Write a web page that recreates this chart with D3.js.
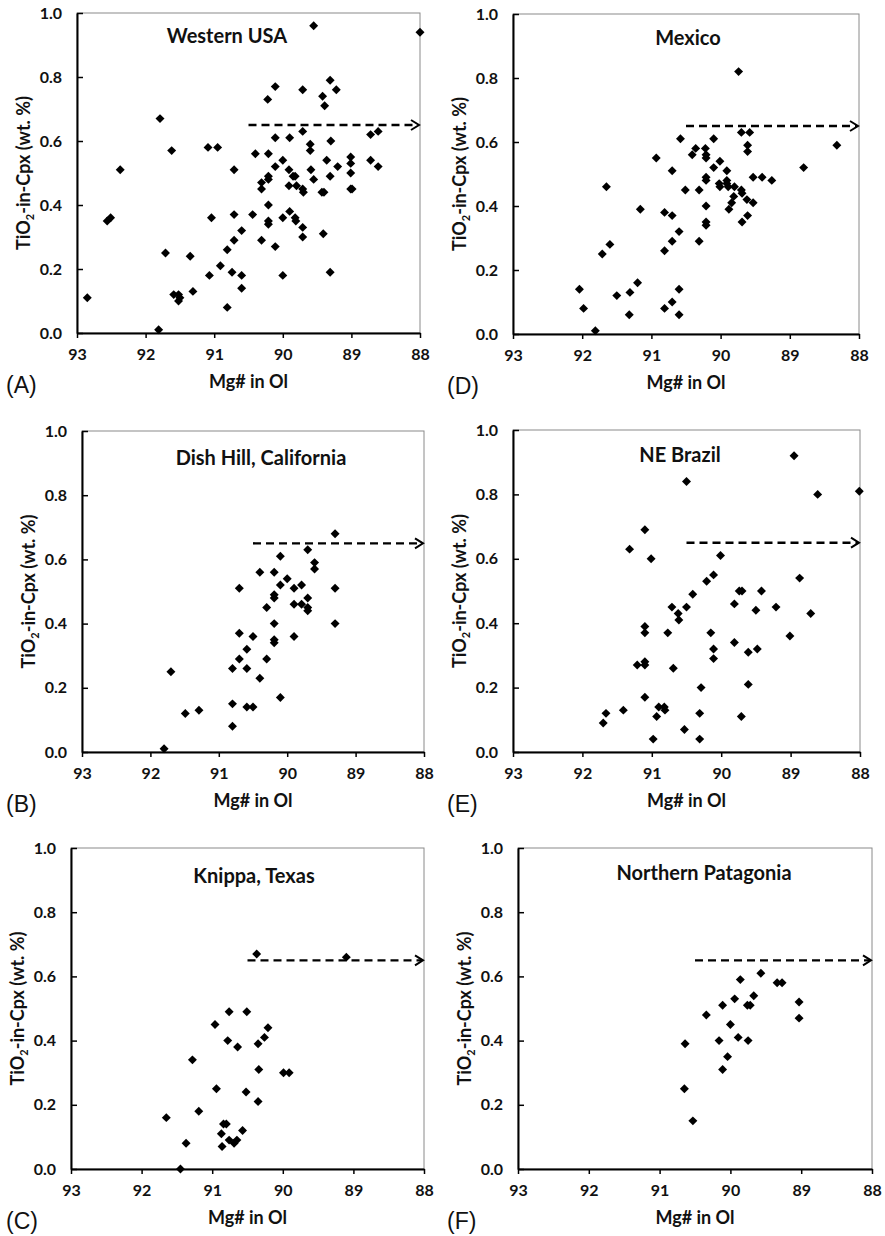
<!DOCTYPE html>
<html>
<head>
<meta charset="utf-8">
<script src="https://cdn.jsdelivr.net/npm/d3@7"></script>
<style>
  body { margin: 0; background: #fff; }
  text { font-family: Lato, "Open Sans", sans-serif; fill: #111; }
</style>
</head>
<body>
<svg id="fig" width="885" height="1236"></svg>
<script>
// tick values and reference arrow
var xTicks = [93, 92, 91, 90, 89, 88];
var yTicks = [0, 0.2, 0.4, 0.6, 0.8, 1.0];
var arrowX = [90.5, 88];
var arrowY = 0.65;

// [Mg# in Ol, TiO2-in-Cpx]
var westernUSA = [[92.85,0.11],[91.81,0.01],[91.79,0.67],[91.62,0.57],[92.37,0.51],[92.56,0.35],[92.51,0.36],[91.71,0.25],
  [91.59,0.12],[91.52,0.12],[91.52,0.10],[91.50,0.11],[91.35,0.24],[91.31,0.13],[91.09,0.58],[90.95,0.58],[91.04,0.36],
  [91.07,0.18],[90.91,0.21],[90.81,0.08],[90.81,0.26],[90.74,0.19],[90.71,0.51],[90.71,0.37],[90.71,0.29],[90.60,0.32],
  [90.60,0.18],[90.60,0.14],[90.40,0.56],[90.44,0.37],[90.31,0.29],[90.31,0.45],[90.31,0.47],[90.22,0.73],[90.21,0.56],
  [90.21,0.49],[90.21,0.48],[90.21,0.40],[90.21,0.35],[90.21,0.34],[90.11,0.77],[90.11,0.61],[90.11,0.52],[90.11,0.27],
  [90.00,0.54],[90.00,0.36],[90.00,0.18],[89.91,0.51],[89.90,0.61],[89.91,0.46],[89.90,0.38],[89.85,0.49],[89.82,0.49],
  [89.82,0.36],[89.81,0.35],[89.80,0.46],[89.71,0.76],[89.71,0.63],[89.71,0.45],[89.70,0.44],[89.71,0.33],[89.71,0.30],
  [89.60,0.59],[89.60,0.57],[89.59,0.51],[89.55,0.96],[89.55,0.48],[89.43,0.44],[89.40,0.44],[89.42,0.74],[89.39,0.71],
  [89.41,0.31],[89.36,0.54],[89.31,0.79],[89.30,0.60],[89.31,0.49],[89.31,0.19],[89.22,0.76],[89.20,0.52],[89.01,0.55],
  [89.01,0.53],[89.01,0.50],[89.01,0.45],[88.99,0.45],[88.72,0.62],[88.61,0.63],[88.72,0.54],[88.61,0.52],[88.00,0.94]];

var mexico = [[92.04,0.14],[91.98,0.08],[91.81,0.01],[91.71,0.25],[91.65,0.46],[91.60,0.28],[91.50,0.12],[91.31,0.13],
  [91.32,0.06],[91.20,0.16],[91.16,0.39],[90.93,0.55],[90.81,0.38],[90.81,0.26],[90.81,0.08],[90.70,0.51],[90.70,0.37],
  [90.70,0.29],[90.70,0.10],[90.60,0.32],[90.60,0.14],[90.60,0.06],[90.58,0.61],[90.51,0.45],[90.41,0.56],[90.36,0.58],
  [90.31,0.45],[90.31,0.29],[90.22,0.58],[90.21,0.56],[90.21,0.55],[90.21,0.49],[90.21,0.48],[90.21,0.40],[90.21,0.35],
  [90.21,0.34],[90.10,0.61],[90.10,0.52],[90.01,0.54],[90.02,0.47],[90.01,0.46],[89.91,0.51],[89.91,0.48],[89.91,0.47],
  [89.89,0.46],[89.88,0.39],[89.84,0.41],[89.81,0.43],[89.80,0.46],[89.74,0.82],[89.70,0.63],[89.70,0.45],[89.69,0.44],
  [89.69,0.35],[89.62,0.42],[89.61,0.37],[89.61,0.59],[89.61,0.57],[89.58,0.63],[89.53,0.49],[89.53,0.41],[89.40,0.49],
  [89.26,0.48],[88.80,0.52],[88.32,0.59]];

var dishHill = [[91.80,0.01],[91.70,0.25],[91.49,0.12],[91.29,0.13],[90.80,0.08],[90.80,0.15],[90.80,0.26],[90.70,0.51],
  [90.70,0.37],[90.70,0.29],[90.59,0.32],[90.59,0.26],[90.59,0.14],[90.50,0.14],[90.50,0.36],[90.40,0.56],[90.40,0.23],
  [90.30,0.45],[90.30,0.29],[90.19,0.56],[90.19,0.49],[90.19,0.48],[90.19,0.40],[90.19,0.35],[90.19,0.34],[90.10,0.61],
  [90.10,0.52],[90.10,0.17],[90.00,0.54],[89.90,0.51],[89.90,0.46],[89.90,0.36],[89.79,0.52],[89.79,0.46],[89.70,0.63],
  [89.70,0.48],[89.70,0.45],[89.70,0.44],[89.60,0.59],[89.60,0.57],[89.30,0.68],[89.30,0.51],[89.30,0.40]];

var neBrazil = [[91.70,0.09],[91.66,0.12],[91.41,0.13],[91.32,0.63],[91.21,0.27],[91.10,0.69],[91.10,0.39],[91.10,0.37],
  [91.10,0.28],[91.10,0.27],[91.10,0.17],[91.01,0.60],[90.98,0.04],[90.93,0.11],[90.90,0.14],[90.82,0.14],[90.81,0.13],
  [90.77,0.37],[90.71,0.45],[90.69,0.26],[90.62,0.43],[90.61,0.41],[90.53,0.07],[90.50,0.45],[90.50,0.84],[90.41,0.49],
  [90.31,0.12],[90.31,0.04],[90.29,0.20],[90.21,0.53],[90.15,0.37],[90.11,0.55],[90.11,0.32],[90.11,0.29],[90.01,0.61],
  [89.81,0.46],[89.81,0.34],[89.74,0.50],[89.70,0.50],[89.71,0.11],[89.61,0.31],[89.61,0.21],[89.50,0.44],[89.48,0.32],
  [89.42,0.50],[89.21,0.45],[89.01,0.36],[88.95,0.92],[88.87,0.54],[88.71,0.43],[88.61,0.80],[88.01,0.81]];

var knippa = [[91.65,0.16],[91.45,0.00],[91.37,0.08],[91.28,0.34],[91.19,0.18],[90.96,0.45],[90.94,0.25],[90.87,0.11],
  [90.86,0.07],[90.84,0.14],[90.80,0.14],[90.78,0.40],[90.76,0.49],[90.76,0.09],[90.69,0.08],[90.65,0.09],[90.64,0.38],
  [90.57,0.12],[90.52,0.24],[90.51,0.49],[90.37,0.67],[90.35,0.39],[90.35,0.21],[90.34,0.31],[90.26,0.41],[90.21,0.44],
  [89.99,0.30],[89.91,0.30],[89.10,0.66]];

var patagonia = [[90.65,0.25],[90.64,0.39],[90.53,0.15],[90.34,0.48],[90.16,0.40],[90.11,0.51],[90.11,0.31],[90.04,0.35],
  [90.00,0.45],[89.94,0.53],[89.89,0.41],[89.86,0.59],[89.76,0.51],[89.72,0.51],[89.75,0.40],[89.67,0.54],[89.57,0.61],
  [89.34,0.58],[89.27,0.58],[89.03,0.52],[89.03,0.47]];

var panels = [
  {tag: '(A)', title: 'Western USA', data: westernUSA, left: 77, right: 420, top: 13, bottom: 333, tx: 227, ty: 43},
  {tag: '(D)', title: 'Mexico', data: mexico, left: 513, right: 859, top: 14, bottom: 334, tx: 688, ty: 45},
  {tag: '(B)', title: 'Dish Hill, California', data: dishHill, left: 82, right: 424, top: 431, bottom: 752, tx: 261, ty: 465},
  {tag: '(E)', title: 'NE Brazil', data: neBrazil, left: 513, right: 860, top: 430, bottom: 752, tx: 680, ty: 462},
  {tag: '(C)', title: 'Knippa, Texas', data: knippa, left: 71, right: 424, top: 848, bottom: 1169, tx: 254, ty: 883},
  {tag: '(F)', title: 'Northern Patagonia', data: patagonia, left: 518, right: 872, top: 848, bottom: 1169, tx: 704, ty: 880}
];

var svg = d3.select('#fig');
svg.append('rect').attr('width', 885).attr('height', 1236).attr('fill', '#fff');

panels.forEach(function(p, i) {
  var x = d3.scaleLinear().domain([93, 88]).range([p.left, p.right]);
  var y = d3.scaleLinear().domain([0, 1]).range([p.bottom, p.top]);
  var g = svg.append('g').attr('class', 'panel');

  // plot area border (grey top/right)
  g.append('rect')
    .attr('x', p.left).attr('y', p.top)
    .attr('width', p.right - p.left).attr('height', p.bottom - p.top)
    .attr('fill', 'none').attr('stroke', '#8a8a8a').attr('stroke-width', 1);

  // dashed reference arrow
  g.append('line')
    .attr('x1', x(arrowX[0])).attr('x2', x(arrowX[1]) - 2)
    .attr('y1', y(arrowY)).attr('y2', y(arrowY))
    .attr('stroke', '#000').attr('stroke-width', 2.4)
    .attr('stroke-dasharray', '8,5');
  g.append('path')
    .attr('d', 'M' + (x(arrowX[1]) - 9) + ',' + (y(arrowY) - 5) +
               'L' + (x(arrowX[1]) - 1) + ',' + y(arrowY) +
               'L' + (x(arrowX[1]) - 9) + ',' + (y(arrowY) + 5))
    .attr('fill', 'none').attr('stroke', '#000').attr('stroke-width', 2);

  // points
  g.selectAll('path.pt')
    .data(p.data)
    .enter()
    .append('path')
    .attr('class', 'pt')
    .attr('d', d3.symbol().type(d3.symbolSquare).size(40))
    .attr('transform', function(d) {
      return 'translate(' + x(d[0]) + ',' + y(d[1]) + ') rotate(45)';
    })
    .attr('fill', '#000');

  // Y axis, ticks inside
  var yAxis = d3.axisLeft(y)
    .tickValues(yTicks)
    .tickFormat(d3.format('.1f'))
    .tickSizeInner(-6)
    .tickSizeOuter(0)
    .tickPadding(15);
  var ya = g.append('g')
    .attr('transform', 'translate(' + p.left + ',0)')
    .call(yAxis);
  ya.select('.domain').attr('stroke', '#000').attr('stroke-width', 2);
  ya.selectAll('.tick line').attr('stroke', '#000').attr('stroke-width', 1.5);
  ya.selectAll('text')
    .style('font-family', 'Lato, sans-serif').style('font-weight', 'bold')
    .style('font-size', '16px').style('fill', '#111');

  // X axis, ticks outside
  var xAxis = d3.axisBottom(x)
    .tickValues(xTicks)
    .tickFormat(d3.format('d'))
    .tickSizeInner(5)
    .tickSizeOuter(0)
    .tickPadding(11);
  var xa = g.append('g')
    .attr('transform', 'translate(0,' + p.bottom + ')')
    .call(xAxis);
  xa.select('.domain').attr('stroke', '#000').attr('stroke-width', 2);
  xa.selectAll('.tick line').attr('stroke', '#000').attr('stroke-width', 1.5);
  xa.selectAll('text')
    .style('font-family', 'Lato, sans-serif').style('font-weight', 'bold')
    .style('font-size', '16px').style('fill', '#111');

  // panel title
  g.append('text')
    .attr('x', p.tx)
    .attr('y', p.ty)
    .attr('text-anchor', 'middle')
    .style('font-weight', 'bold')
    .style('font-size', '20px')
    .text(p.title);

  // x axis title
  g.append('text')
    .attr('x', (p.left + p.right) / 2)
    .attr('y', p.bottom + 55)
    .attr('text-anchor', 'middle')
    .style('font-weight', 'bold')
    .style('font-size', '18px')
    .text('Mg# in Ol');

  // y axis title with subscript
  var yt = g.append('text')
    .attr('transform', 'translate(' + (p.left - 47) + ',' + ((p.top + p.bottom) / 2) + ') rotate(-90)')
    .attr('text-anchor', 'middle')
    .style('font-weight', 'bold')
    .style('font-size', '18px');
  yt.append('tspan').text('TiO');
  yt.append('tspan').style('font-size', '11px').attr('dy', 4).text('2');
  yt.append('tspan').attr('dy', -4).text('-in-Cpx (wt. %)');

  // panel tag
  g.append('text')
    .attr('x', i % 2 === 0 ? 6 : 447)
    .attr('y', p.bottom + 60)
    .style('font-family', '"Liberation Sans", Arial, sans-serif')
    .style('font-weight', 'normal')
    .style('font-size', '23px')
    .text(p.tag);
});
</script>
</body>
</html>
